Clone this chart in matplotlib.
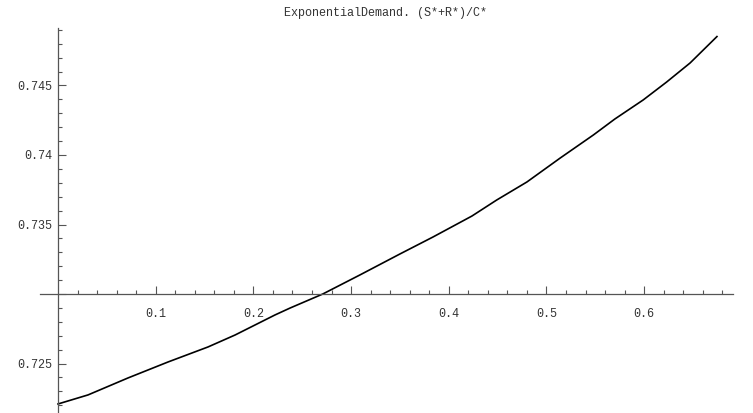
import matplotlib.pyplot as plt
from matplotlib.ticker import FixedLocator, FixedFormatter

# curve samples (x, (S*+R*)/C*)
x_vals = [0.0, 0.0307, 0.0716, 0.1126, 0.1535, 0.1812, 0.222, 0.2375,
          0.271, 0.309, 0.350, 0.3838, 0.4237, 0.449, 0.480, 0.514, 0.548,
          0.570, 0.599, 0.623, 0.647, 0.6745]
y_vals = [0.72209, 0.72274, 0.72396, 0.72511, 0.72619, 0.72705, 0.72849,
          0.72899, 0.73000, 0.73137, 0.73288, 0.73410, 0.73561, 0.73676,
          0.73806, 0.73978, 0.74144, 0.74259, 0.74396, 0.74525, 0.74662,
          0.74852]

x_ticks = [0.1, 0.2, 0.3, 0.4, 0.5, 0.6]
x_labels = ['0.1', '0.2', '0.3', '0.4', '0.5', '0.6']
y_ticks = [0.725, 0.735, 0.74, 0.745]
y_labels = ['0.725', '0.735', '0.74', '0.745']

TITLE = 'ExponentialDemand. (S*+R*)/C*'
FONT = 'Liberation Mono'
AXIS_COLOR = '#555555'
TEXT_COLOR = '#333333'

fig = plt.figure(figsize=(7.53, 4.13), dpi=100)
ax = fig.add_axes([0, 0, 1, 1])
ax.patch.set_alpha(0)

ax.plot(x_vals, y_vals, color='black', linewidth=1.2)

# axes cross at (0, 0.73) like Mathematica
ax.set_xlim(-0.0594, 0.7114)
ax.set_ylim(0.72144, 0.75115)
for s in ['top', 'right']:
    ax.spines[s].set_visible(False)
ax.spines['left'].set_position(('data', 0))
ax.spines['bottom'].set_position(('data', 0.73))
ax.spines['left'].set_bounds(0.72144, 0.74917)
ax.spines['bottom'].set_bounds(-0.0184, 0.691)
for s in ['left', 'bottom']:
    ax.spines[s].set_color(AXIS_COLOR)
    ax.spines[s].set_linewidth(0.9)

ax.xaxis.set_major_locator(FixedLocator(x_ticks))
ax.xaxis.set_major_formatter(FixedFormatter(x_labels))
ax.xaxis.set_minor_locator(FixedLocator([i * 0.02 for i in range(1, 35) if i % 5]))
ax.yaxis.set_major_locator(FixedLocator(y_ticks + [0.73]))
ax.yaxis.set_major_formatter(FixedFormatter(y_labels + ['']))
ax.yaxis.set_minor_locator(FixedLocator([0.722 + i * 0.001 for i in range(28) if (722 + i) % 5]))

ax.tick_params(which='both', direction='in', color=AXIS_COLOR, width=0.8,
               labelcolor=TEXT_COLOR, labelsize=8.5)
ax.tick_params(which='major', length=6)
ax.tick_params(which='minor', length=3)
ax.tick_params(axis='x', pad=10)
ax.tick_params(axis='y', pad=4)
for lab in ax.get_xticklabels() + ax.get_yticklabels():
    lab.set_fontfamily(FONT)

fig.text(386 / 753, 1 - 13 / 413, TITLE, ha='center', va='center',
         fontsize=8.5, family=FONT, color=TEXT_COLOR)

plt.savefig('out.png', dpi=100)
